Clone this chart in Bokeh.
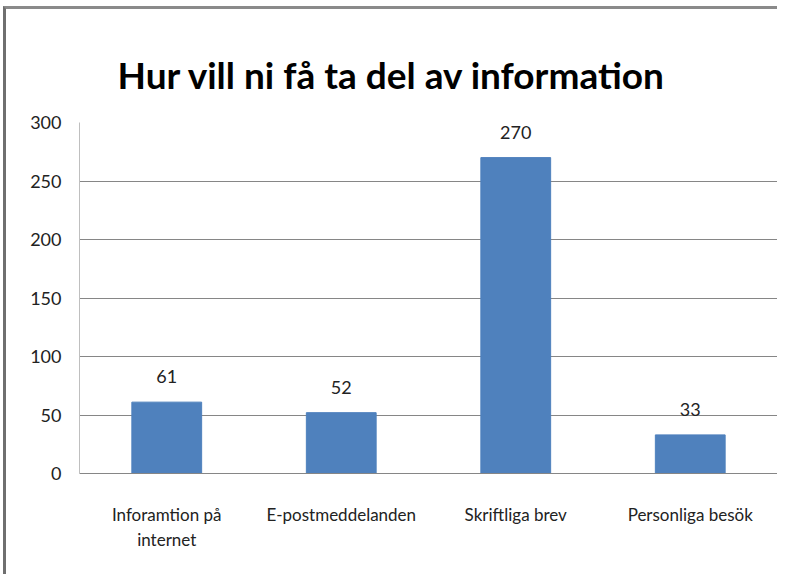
from bokeh.plotting import figure
from bokeh.models import ColumnDataSource, LabelSet, FixedTicker, Range1d, Title
from bokeh.core.properties import value
from bokeh.embed import file_html
from bokeh.resources import INLINE

categories = ["Inforamtion på\ninternet", "E-postmeddelanden", "Skriftliga brev", "Personliga besök"]
values = [61, 52, 270, 33]
y_ticks = [0, 50, 100, 150, 200, 250, 300]
title_text = "Hur vill ni få ta del av information"

FONT = "Lato"

src = ColumnDataSource(dict(cat=categories, val=values, lab=[str(v) for v in values]))

p = figure(x_range=categories, y_range=Range1d(0, 300), width=774, height=568,
           output_backend="svg", toolbar_location=None,
           min_border_left=73, min_border_right=3, min_border_top=113, min_border_bottom=104)

p.title.text = title_text
p.title.align = "left"
p.title.offset = 38
p.title.text_font = FONT
p.title.text_font_style = "bold"
p.title.text_font_size = "37px"
p.title.text_color = "#000000"

p.add_layout(Title(text=" ", text_font_size="8px"), "above")

p.vbar(x="cat", top="val", width=0.4, source=src, fill_color="#4F81BD", line_color="#4F81BD")

labels = LabelSet(x="cat", y="val", text="lab", source=src, text_align="center",
                  text_baseline="alphabetic", y_offset=19, text_font=value(FONT),
                  text_font_size=value("18px"), text_color="#222222")
p.add_layout(labels)

p.yaxis.ticker = FixedTicker(ticks=y_ticks)
p.yaxis.major_label_text_font = FONT
p.yaxis.major_label_text_font_size = "18px"
p.yaxis.major_label_text_color = "#222222"
p.yaxis.major_tick_in = 0
p.yaxis.major_tick_out = 0
p.yaxis.minor_tick_in = 0
p.yaxis.minor_tick_out = 0
p.yaxis.major_label_standoff = 18
p.yaxis.axis_line_color = "#BFBFBF"

p.xaxis.major_label_text_font = FONT
p.xaxis.major_label_text_font_size = "17px"
p.xaxis.major_label_text_color = "#222222"
p.xaxis.major_tick_in = 0
p.xaxis.major_tick_out = 0
p.xaxis.major_label_standoff = 30
p.xaxis.axis_line_color = "#868686"

p.xgrid.grid_line_color = None
p.ygrid.ticker = FixedTicker(ticks=y_ticks)
p.ygrid.grid_line_color = "#868686"
p.outline_line_color = None
p.x_range.range_padding = 0.0

p.styles = {"border-left": "3px solid #6f6f6f", "border-top": "3px solid #8a8a8a",
            "margin-left": "3px", "margin-top": "6px"}

open("out.html", "w").write(file_html(p, INLINE))
